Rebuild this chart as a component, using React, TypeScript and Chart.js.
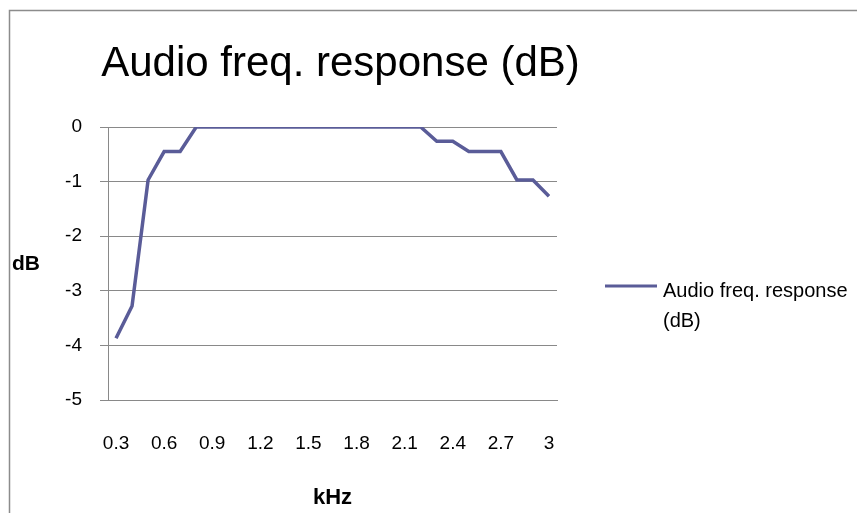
import React, { useEffect, useRef } from "react";
import { Chart, registerables } from "chart.js";

Chart.register(...registerables);

const chartTitle = "Audio freq. response (dB)";
const seriesLabel = "Audio freq. response (dB)";
const xAxisTitle = "kHz";
const yAxisTitle = "dB";
const frequencies = [
  "0.3", "0.4", "0.5", "0.6", "0.7", "0.8", "0.9", "1", "1.1", "1.2",
  "1.3", "1.4", "1.5", "1.6", "1.7", "1.8", "1.9", "2", "2.1", "2.2",
  "2.3", "2.4", "2.5", "2.6", "2.7", "2.8", "2.9", "3",
];
const responseDb = [
  -3.87, -3.28, -0.97, -0.45, -0.45, 0, 0, 0, 0, 0,
  0, 0, 0, 0, 0, 0, 0, 0, 0, 0,
  -0.26, -0.26, -0.45, -0.45, -0.45, -0.97, -0.97, -1.27,
];
const xTickLabels = ["0.3", "0.6", "0.9", "1.2", "1.5", "1.8", "2.1", "2.4", "2.7", "3"];
const yMin = -5;
const yMax = 0;

const LINE_COLOR = "#5a5c98";
const GRID_COLOR = "#898989";
const FONT = "'Liberation Sans', Arial, sans-serif";

const decorPlugin = {
  id: "decor",
  afterDraw(chart: any) {
    const ctx = chart.ctx;
    const ca = chart.chartArea;
    ctx.save();
    // outer border (top and left)
    ctx.strokeStyle = "#8c8c8c";
    ctx.lineWidth = 1.5;
    ctx.beginPath();
    ctx.moveTo(9.5, chart.height);
    ctx.lineTo(9.5, 10.5);
    ctx.lineTo(chart.width, 10.5);
    ctx.stroke();

    // title
    ctx.fillStyle = "#000";
    ctx.font = `42px ${FONT}`;
    ctx.textAlign = "center";
    ctx.textBaseline = "alphabetic";
    ctx.fillText(chartTitle, 340.5, 76);

    // y axis title (horizontal)
    ctx.font = `bold 21px ${FONT}`;
    ctx.textAlign = "left";
    ctx.fillText(yAxisTitle, 12, (ca.top + ca.bottom) / 2 + 6);

    // legend
    const lx = ca.right + 48;
    const ly = 286;
    ctx.strokeStyle = LINE_COLOR;
    ctx.lineWidth = 3;
    ctx.beginPath();
    ctx.moveTo(lx, ly);
    ctx.lineTo(lx + 52, ly);
    ctx.stroke();
    ctx.font = `20px ${FONT}`;
    const words = String(chart.data.datasets[0].label).split(" ");
    const lines: string[] = [];
    let cur = "";
    for (const w of words) {
      const test = cur ? cur + " " + w : w;
      if (ctx.measureText(test).width > 190 && cur) {
        lines.push(cur);
        cur = w;
      } else cur = test;
    }
    if (cur) lines.push(cur);
    lines.forEach((t, i) => ctx.fillText(t, lx + 58, 297 + i * 30));
    ctx.restore();
  },
};

export default function App() {
  const ref = useRef<HTMLCanvasElement>(null);
  useEffect(() => {
    if (!ref.current) return;
    const chart = new Chart(ref.current, {
      type: "line",
      data: {
        labels: frequencies,
        datasets: [
          {
            label: seriesLabel,
            data: responseDb,
            borderColor: LINE_COLOR,
            backgroundColor: LINE_COLOR,
            borderWidth: 3.5,
            pointRadius: 0,
            tension: 0,
            fill: false,
          },
        ],
      },
      options: {
        animation: false,
        responsive: false,
        maintainAspectRatio: false,
        layout: { padding: { top: 127, left: 0, right: 300, bottom: 0 } },
        plugins: {
          legend: { display: false },
          title: { display: false },
          tooltip: { enabled: false },
        },
        scales: {
          x: {
            type: "category",
            offset: true,
            grid: { display: false, drawTicks: false },
            border: { display: true, color: GRID_COLOR, width: 1 },
            ticks: {
              autoSkip: false,
              maxRotation: 0,
              minRotation: 0,
              padding: 32,
              color: "#000",
              font: { family: FONT, size: 19 },
              callback: (v: any, i: number) => {
                const lab = frequencies[i];
                return xTickLabels.includes(lab) ? lab : "";
              },
            },
            title: {
              display: true,
              text: xAxisTitle,
              color: "#000",
              font: { family: FONT, size: 22, weight: "bold" },
              padding: { top: 0, bottom: 2 },
            },
            afterFit: (s: any) => {
              s.height = 113;
            },
          },
          y: {
            min: yMin,
            max: yMax,
            ticks: {
              stepSize: 1,
              padding: 18,
              color: "#000",
              font: { family: FONT, size: 19 },
            },
            grid: { color: GRID_COLOR, tickLength: 8, lineWidth: 1 },
            border: { display: true, color: GRID_COLOR, width: 1 },
            afterFit: (s: any) => {
              s.width = 108;
            },
          },
        },
      },
      plugins: [decorPlugin],
    });
    return () => chart.destroy();
  }, []);
  return (
    <div style={{ position: "absolute", left: 0, top: 0, width: 857, height: 513, background: "#fff" }}>
      <canvas ref={ref} width={857} height={513} style={{ display: "block" }} />
    </div>
  );
}
